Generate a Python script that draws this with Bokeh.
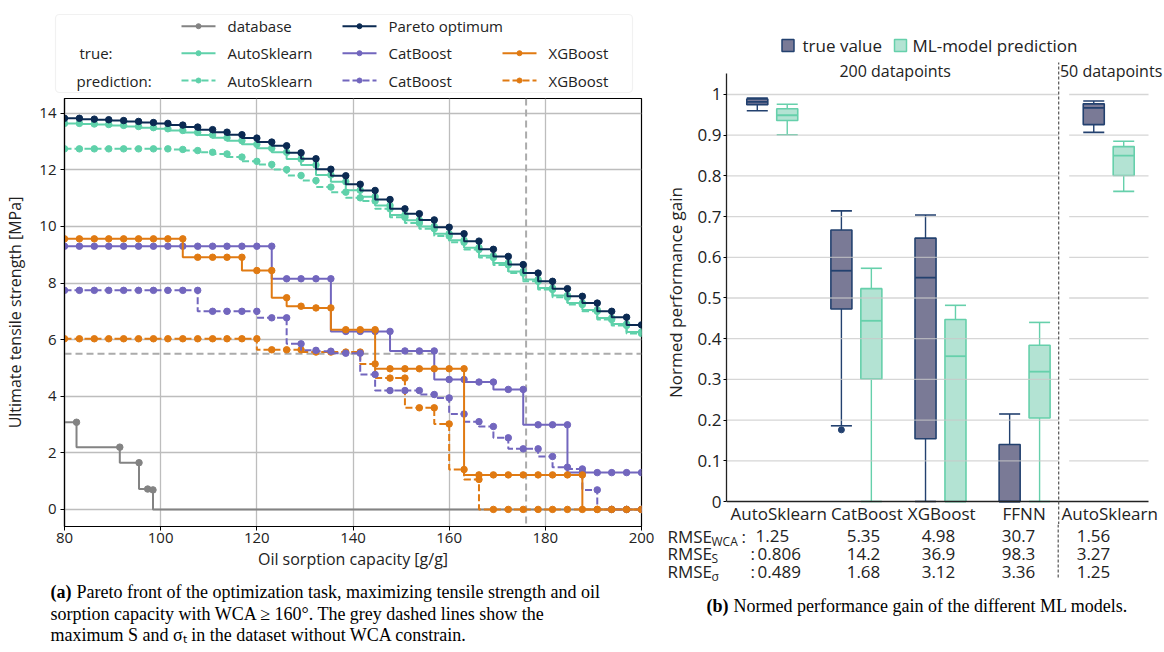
from bokeh.plotting import figure
from bokeh.models import Range1d, FixedTicker, Span, BoxAnnotation
from bokeh.layouts import row, column
from bokeh.embed import file_html
from bokeh.resources import INLINE
from bokeh.core.properties import value

# ---------------- panel (a) data ----------------
capacity = [80.0, 83.1, 86.2, 89.2, 92.3, 95.4, 98.5, 101.5, 104.6, 107.7,
            110.8, 113.8, 116.9, 120.0, 123.1, 126.2, 129.2, 132.3, 135.4, 138.5,
            141.5, 144.6, 147.7, 150.8, 153.8, 156.9, 160.0, 163.1, 166.2, 169.2,
            172.3, 175.4, 178.5, 181.5, 184.6, 187.7, 190.8, 193.8, 196.9, 200.0]
pareto_optimum = [13.82, 13.82, 13.79, 13.77, 13.74, 13.71, 13.67, 13.64, 13.58, 13.51,
                  13.42, 13.33, 13.24, 13.12, 12.98, 12.85, 12.60, 12.39, 12.02, 11.79,
                  11.49, 11.27, 10.95, 10.62, 10.45, 10.23, 9.97, 9.74, 9.48, 9.19,
                  8.94, 8.65, 8.35, 8.06, 7.80, 7.53, 7.29, 7.00, 6.79, 6.52]
autosklearn_true = [13.64, 13.64, 13.62, 13.60, 13.57, 13.53, 13.49, 13.45, 13.39, 13.32,
                    13.23, 13.13, 13.03, 12.90, 12.76, 12.62, 12.38, 12.17, 11.82, 11.58,
                    11.28, 11.05, 10.74, 10.40, 10.22, 10.00, 9.74, 9.51, 9.25, 8.96,
                    8.71, 8.41, 8.12, 7.82, 7.56, 7.29, 7.05, 6.76, 6.55, 6.27]
autosklearn_pred = [12.74, 12.74, 12.74, 12.74, 12.74, 12.74, 12.74, 12.74, 12.72, 12.68,
                    12.62, 12.56, 12.45, 12.30, 12.19, 12.01, 11.80, 11.62, 11.39, 11.21,
                    11.01, 10.90, 10.62, 10.32, 10.12, 9.92, 9.66, 9.44, 9.18, 8.90,
                    8.64, 8.35, 8.06, 7.77, 7.50, 7.24, 7.00, 6.71, 6.50, 6.22]
catboost_true = [9.30, 9.30, 9.30, 9.30, 9.30, 9.30, 9.30, 9.30, 9.30, 9.30,
                 9.30, 9.30, 9.30, 9.30, 9.30, 8.15, 8.15, 8.15, 8.15, 6.29,
                 6.29, 6.29, 6.29, 5.60, 5.60, 5.60, 4.59, 4.59, 4.50, 4.50,
                 4.24, 4.24, 2.99, 2.99, 2.99, 1.30, 1.30, 1.30, 1.30, 1.30]
catboost_pred = [7.74, 7.74, 7.74, 7.74, 7.74, 7.74, 7.74, 7.74, 7.74, 7.74,
                 7.00, 7.00, 7.00, 7.00, 6.77, 6.77, 5.85, 5.62, 5.59, 5.52,
                 5.52, 4.77, 4.20, 4.20, 4.20, 4.06, 3.94, 3.37, 3.10, 2.93,
                 2.53, 2.14, 2.14, 1.87, 1.49, 1.43, 0.69, 0.00, 0.00, 0.00]
xgboost_true = [9.56, 9.56, 9.56, 9.56, 9.56, 9.56, 9.56, 9.56, 9.56, 8.91,
                8.91, 8.91, 8.91, 8.44, 8.44, 7.48, 7.18, 7.12, 7.12, 6.35,
                6.35, 6.35, 4.97, 4.97, 4.97, 4.97, 4.97, 4.97, 1.22, 1.22,
                1.22, 1.22, 1.22, 1.22, 1.22, 1.22, 0.00, 0.00, 0.00, 0.00]
xgboost_pred = [6.03, 6.03, 6.03, 6.03, 6.03, 6.03, 6.03, 6.03, 6.03, 6.03,
                6.03, 6.03, 6.03, 6.03, 5.64, 5.64, 5.64, 5.56, 5.56, 5.56,
                5.56, 5.14, 4.64, 4.64, 3.59, 3.59, 3.02, 1.41, 1.06, 0.00,
                0.00, 0.00, 0.00, 0.00, 0.00, 0.00, 0.00, 0.00, 0.00, 0.00]
database_capacity = [72.0, 82.5, 91.5, 95.5, 97.3, 98.4, 230.0]
database_strength = [3.60, 3.08, 2.20, 1.65, 0.72, 0.69, 0.00]
db_max_capacity = 176.0
db_max_strength = 5.5
x_ticks_a = [80, 100, 120, 140, 160, 180, 200]
y_ticks_a = [0, 2, 4, 6, 8, 10, 12, 14]

# ---------------- panel (b) data ----------------
models = ["AutoSklearn", "CatBoost", "XGBoost", "FFNN", "AutoSklearn"]
group_pos = [0, 1, 2, 3, 4]
true_lo = [0.960, 0.186, 0.000, 0.000, 0.907]
true_q1 = [0.975, 0.473, 0.154, 0.000, 0.926]
true_med = [0.982, 0.567, 0.550, 0.000, 0.967]
true_q3 = [0.989, 0.667, 0.647, 0.140, 0.977]
true_hi = [0.991, 0.714, 0.704, 0.215, 0.984]
pred_lo = [0.901, 0.000, 0.000, 0.000, 0.762]
pred_q1 = [0.936, 0.301, 0.000, 0.205, 0.801]
pred_med = [0.949, 0.444, 0.357, 0.319, 0.850]
pred_q3 = [0.965, 0.523, 0.447, 0.384, 0.872]
pred_hi = [0.976, 0.573, 0.482, 0.440, 0.885]
outlier_group = [1]
outlier_value = [0.176]
y_ticks_b = [0, 0.1, 0.2, 0.3, 0.4, 0.5, 0.6, 0.7, 0.8, 0.9, 1.0]
rmse_wca = ["1.25", "5.35", "4.98", "30.7", "1.56"]
rmse_s = ["0.806", "14.2", "36.9", "98.3", "3.27"]
rmse_sigma = ["0.489", "1.68", "3.12", "3.36", "1.25"]

# ---------------- styles ----------------
SANS = "Open Sans"
SERIF = "Liberation Serif"
CAP_SIZE = "18px"
TXT = "#222222"
NAVY = "#0b2a52"
MINT = "#5fd1aa"
PURPLE = "#7266be"
ORANGE = "#e07a12"
GREY = "#838383"
REF = "#ababab"
TRUE_FILL = "#7a7a96"
TRUE_LINE = "#23416f"
PRED_FILL = "#b3e3d3"
PRED_LINE = "#66d0ab"
SEP_COLOR = "#555555"
SEP_DASH = "3 2"


def blank(width, height, xr, yr):
    f = figure(width=width, height=height, x_range=xr, y_range=yr,
               x_axis_location=None, y_axis_location=None,
               toolbar_location=None, output_backend="svg",
               min_border=0, outline_line_color=None, frame_align=False)
    f.grid.visible = False
    f.background_fill_color = "white"
    f.border_fill_color = "white"
    return f


# ---------------- legend of panel (a) ----------------
leg = blank(660, 95, Range1d(0, 660), Range1d(0, 95))
leg.add_layout(BoxAnnotation(left=55, right=632, bottom=3, top=81,
                             fill_color="white", fill_alpha=1.0,
                             line_color="#cfcfcf", line_width=1.2,
                             border_radius=4, level="underlay"))
rows_y = [69.3, 42.3, 15.0]
cols_x = [181, 342, 502]
entries = [
    ("database", GREY, "solid", 0, 0),
    ("Pareto optimum", NAVY, "solid", 1, 0),
    ("AutoSklearn", MINT, "solid", 0, 1),
    ("CatBoost", PURPLE, "solid", 1, 1),
    ("XGBoost", ORANGE, "solid", 2, 1),
    ("AutoSklearn", MINT, "dashed", 0, 2),
    ("CatBoost", PURPLE, "dashed", 1, 2),
    ("XGBoost", ORANGE, "dashed", 2, 2),
]
for label, col, style, ci, ri in entries:
    x0 = cols_x[ci]
    y0 = rows_y[ri]
    dash = "solid" if style == "solid" else "7 3"
    leg.line([x0, x0 + 34], [y0, y0], line_color=col, line_width=2, line_dash=dash)
    leg.scatter([x0 + 17], [y0], size=5, fill_color=col, line_color=col)
    leg.text([x0 + 46], [y0], text=[label], text_font=value(SANS),
             text_font_size="15px", text_baseline="middle", text_color=TXT)
leg.text([79, 76], [rows_y[1], rows_y[2]], text=["true:", "prediction:"],
         text_font=value(SANS), text_font_size="15px",
         text_baseline="middle", text_color=TXT)

# ---------------- panel (a) ----------------
pa = figure(width=660, height=483, x_range=Range1d(80, 200),
            y_range=Range1d(-0.604, 14.52), toolbar_location=None,
            output_backend="svg", min_border_left=64, min_border_right=19,
            min_border_top=3, min_border_bottom=52, frame_align=False)
pa.background_fill_color = "white"
pa.border_fill_color = "white"
pa.outline_line_color = "black"
pa.outline_line_width = 1.2
pa.outline_line_alpha = 1.0
pa.xaxis.ticker = FixedTicker(ticks=x_ticks_a)
pa.yaxis.ticker = FixedTicker(ticks=y_ticks_a)
pa.xgrid.ticker = FixedTicker(ticks=x_ticks_a)
pa.ygrid.ticker = FixedTicker(ticks=y_ticks_a)
pa.grid.grid_line_color = "#bdbdbd"
pa.grid.grid_line_width = 1.3
for ax in (pa.xaxis[0], pa.yaxis[0]):
    ax.axis_line_color = "black"
    ax.axis_line_width = 1.2
    ax.major_tick_out = 4
    ax.major_tick_in = 0
    ax.minor_tick_out = 0
    ax.minor_tick_in = 0
    ax.major_tick_line_color = "black"
    ax.major_label_text_font = SANS
    ax.major_label_text_font_size = "15px"
    ax.major_label_text_color = TXT
    ax.axis_label_text_font = SANS
    ax.axis_label_text_font_size = "16px"
    ax.axis_label_text_font_style = "normal"
    ax.axis_label_text_color = TXT
pa.xaxis.axis_label = "Oil sorption capacity [g/g]"
pa.yaxis.axis_label = "Ultimate tensile strength [MPa]"
pa.xaxis.major_label_standoff = 2
pa.xaxis.axis_label_standoff = 2
pa.yaxis.major_label_standoff = 4
pa.yaxis.axis_label_standoff = 10

pa.add_layout(Span(location=db_max_capacity, dimension="height", line_color=REF,
                   line_width=2, line_dash="7 4", level="underlay"))
pa.add_layout(Span(location=db_max_strength, dimension="width", line_color=REF,
                   line_width=2, line_dash="7 4", level="underlay"))


def series(p, x, y, color, dash):
    p.step(x, y, mode="before", line_color=color, line_width=2, line_dash=dash)
    p.scatter(x, y, size=6.5, fill_color=color, line_color=color)


series(pa, database_capacity, database_strength, GREY, "solid")
series(pa, capacity, xgboost_pred, ORANGE, "7 3")
series(pa, capacity, catboost_pred, PURPLE, "7 3")
series(pa, capacity, autosklearn_pred, MINT, "7 3")
series(pa, capacity, catboost_true, PURPLE, "solid")
series(pa, capacity, xgboost_true, ORANGE, "solid")
series(pa, capacity, autosklearn_true, MINT, "solid")
series(pa, capacity, pareto_optimum, NAVY, "solid")

# ---------------- caption (a) ----------------
cap_a = blank(660, 74, Range1d(0, 660), Range1d(652, 578))
cap_a.text([50], [591], text=["(a)"], text_font=value(SERIF), text_font_size=CAP_SIZE,
           text_font_style="bold", text_baseline="middle", text_color="black")
cap_a.text([76, 50, 50], [591, 613, 634],
           text=["Pareto front of the optimization task, maximizing tensile strength and oil",
                 "sorption capacity with WCA \u2265 160\u00b0. The grey dashed lines show the",
                 "maximum S and \u03c3\u209c in the dataset without WCA constrain."],
           text_font=value(SERIF), text_font_size=CAP_SIZE,
           text_baseline="middle", text_color="black")

# ---------------- header of panel (b): legend ----------------
hb = blank(504, 60, Range1d(660, 1164), Range1d(60, 0))
hb.rect(x=[787.5, 900], y=[45, 45], width=12, height=12,
        width_units="screen", height_units="screen",
        fill_color=[TRUE_FILL, PRED_FILL], line_color=[TRUE_LINE, PRED_LINE],
        line_width=1.5)
hb.text([802, 912], [45, 45], text=["true value", "ML-model prediction"],
        text_font=value(SANS), text_font_size="17px", text_baseline="middle",
        text_color=TXT)

# ---------------- panel (b) ----------------
xb_start, xb_end = -0.544, 4.663      # frame 724 px .. 1164 px
grid_end = 4.473                       # axes end at 1148 px
sep_x = 3.405
sep_top = 1.0786
axis_top = 1.0516
yb_top = 1.0835
yb_bottom = -0.0565
pb = figure(width=504, height=464, x_range=Range1d(xb_start, xb_end),
            y_range=Range1d(yb_bottom, yb_top), x_axis_location=None,
            toolbar_location=None, output_backend="svg",
            min_border_left=64, min_border_right=0, min_border_top=0,
            min_border_bottom=0, outline_line_color=None, frame_align=False)
pb.background_fill_color = "white"
pb.border_fill_color = "white"
pb.grid.visible = False
yb = pb.yaxis[0]
yb.ticker = FixedTicker(ticks=y_ticks_b)
yb.bounds = (0, axis_top)
yb.major_label_overrides = {0: "0", 1: "1"}
yb.axis_line_color = "#222222"
yb.axis_line_width = 1.3
yb.major_tick_out = 3
yb.major_tick_in = 0
yb.minor_tick_out = 0
yb.minor_tick_in = 0
yb.major_label_standoff = 2
yb.major_label_text_font = SANS
yb.major_label_text_font_size = "17px"
yb.major_label_text_color = TXT
yb.axis_label = "Normed performance gain"
yb.axis_label_text_font = SANS
yb.axis_label_text_font_size = "17px"
yb.axis_label_text_font_style = "normal"
yb.axis_label_text_color = TXT
yb.axis_label_standoff = 8

off = 0.178
bw = 0.25
tx = [g - off for g in group_pos]
px_ = [g + off for g in group_pos]

for xs, lo, q1, q3, hi, col in ((tx, true_lo, true_q1, true_q3, true_hi, TRUE_LINE),
                                (px_, pred_lo, pred_q1, pred_q3, pred_hi, PRED_LINE)):
    pb.segment(x0=xs, y0=q3, x1=xs, y1=hi, line_color=col, line_width=1.4)
    pb.segment(x0=xs, y0=lo, x1=xs, y1=q1, line_color=col, line_width=1.4)
    pb.segment(x0=[x - bw / 2 for x in xs], y0=hi, x1=[x + bw / 2 for x in xs], y1=hi,
               line_color=col, line_width=1.6)
    pb.segment(x0=[x - bw / 2 for x in xs], y0=lo, x1=[x + bw / 2 for x in xs], y1=lo,
               line_color=col, line_width=1.6)

pb.quad(left=[x - bw / 2 for x in tx], right=[x + bw / 2 for x in tx],
        bottom=true_q1, top=true_q3, fill_color=TRUE_FILL, line_color=TRUE_LINE,
        line_width=1.6)
pb.quad(left=[x - bw / 2 for x in px_], right=[x + bw / 2 for x in px_],
        bottom=pred_q1, top=pred_q3, fill_color=PRED_FILL, line_color=PRED_LINE,
        line_width=1.6)
pb.segment(x0=[x - bw / 2 for x in tx], y0=true_med, x1=[x + bw / 2 for x in tx],
           y1=true_med, line_color=TRUE_LINE, line_width=1.8)
pb.segment(x0=[x - bw / 2 for x in px_], y0=pred_med, x1=[x + bw / 2 for x in px_],
           y1=pred_med, line_color=PRED_LINE, line_width=1.8)
pb.scatter([g - off for g in outlier_group], outlier_value, size=6,
           fill_color=TRUE_LINE, line_color=TRUE_LINE)

# grid (on top of the boxes, split at the separator)
gy = [t for t in y_ticks_b if t > 0]
pb.segment(x0=[xb_start] * len(gy), y0=gy, x1=[sep_x] * len(gy), y1=gy,
           line_color="#c8c8c8", line_width=1.3, line_alpha=0.75)
pb.segment(x0=[sep_x + 0.125] * len(gy), y0=gy, x1=[grid_end] * len(gy), y1=gy,
           line_color="#c8c8c8", line_width=1.3, line_alpha=0.75)
# bottom spine
pb.segment(x0=[xb_start], y0=[0], x1=[grid_end], y1=[0], line_color="#222222",
           line_width=1.5)
# separator
pb.segment(x0=[sep_x], y0=[yb_bottom], x1=[sep_x], y1=[sep_top],
           line_color=SEP_COLOR, line_width=1.2, line_dash=SEP_DASH)
# group titles
pb.text([1.4615], [1.0565], text=["200 datapoints"], text_font=value(SANS),
        text_font_size="16px", text_baseline="middle", text_align="center",
        text_color=TXT)
pb.text([3.420], [1.0565], text=["50 datapoints"], text_font=value(SANS),
        text_font_size="16px", text_baseline="middle", text_align="left",
        text_color=TXT)
# category labels
label_shift = [0.077, 0.124, 0.015, -0.006, 0.012]
pb.text([g + s for g, s in zip(group_pos, label_shift)], [-0.0295] * 5, text=models,
        text_font=value(SANS), text_font_size="17px", text_baseline="middle",
        text_align="center", text_color=TXT)

# ---------------- RMSE table under panel (b) ----------------
tb = blank(504, 66, Range1d(660, 1164), Range1d(590, 524))
row_y = [535.5, 553, 571]
tb.text([667] * 3, row_y, text=["RMSE", "RMSE", "RMSE"], text_font=value(SANS),
        text_font_size="17px", text_baseline="middle", text_color=TXT)
tb.text([711] * 3, [r + 5 for r in row_y], text=["WCA", "S", "\u03c3"],
        text_font=value(SANS), text_font_size="12px", text_baseline="middle",
        text_color=TXT)
tb.text([741, 750, 750], row_y, text=[":", ":", ":"], text_font=value(SANS),
        text_font_size="17px", text_baseline="middle", text_color=TXT)
tb.text([755, 757, 757], row_y, text=[rmse_wca[0], rmse_s[0], rmse_sigma[0]],
        text_font=value(SANS), text_font_size="17px", text_baseline="middle",
        text_color=TXT)
col_cx = [863, 938, 1018, 1093]
for vals, yy in ((rmse_wca, row_y[0]), (rmse_s, row_y[1]), (rmse_sigma, row_y[2])):
    tb.text(col_cx, [yy] * 4, text=vals[1:], text_font=value(SANS),
            text_font_size="17px", text_baseline="middle", text_align="center",
            text_color=TXT)
tb.segment(x0=[1057.7], y0=[524], x1=[1057.7], y1=[578], line_color=SEP_COLOR,
           line_width=1.2, line_dash=SEP_DASH)

# ---------------- caption (b) ----------------
cap_b = blank(504, 62, Range1d(660, 1164), Range1d(652, 590))
cap_b.text([706], [605], text=["(b)"], text_font=value(SERIF), text_font_size=CAP_SIZE,
           text_font_style="bold", text_baseline="middle", text_color="black")
cap_b.text([733], [605], text=["Normed performance gain of the different ML models."],
           text_font=value(SERIF), text_font_size=CAP_SIZE, text_baseline="middle",
           text_color="black")

layout = row(column(leg, pa, cap_a, spacing=0),
             column(hb, pb, tb, cap_b, spacing=0), spacing=0)

with open("out.html", "w") as fh:
    fh.write(file_html(layout, INLINE))
